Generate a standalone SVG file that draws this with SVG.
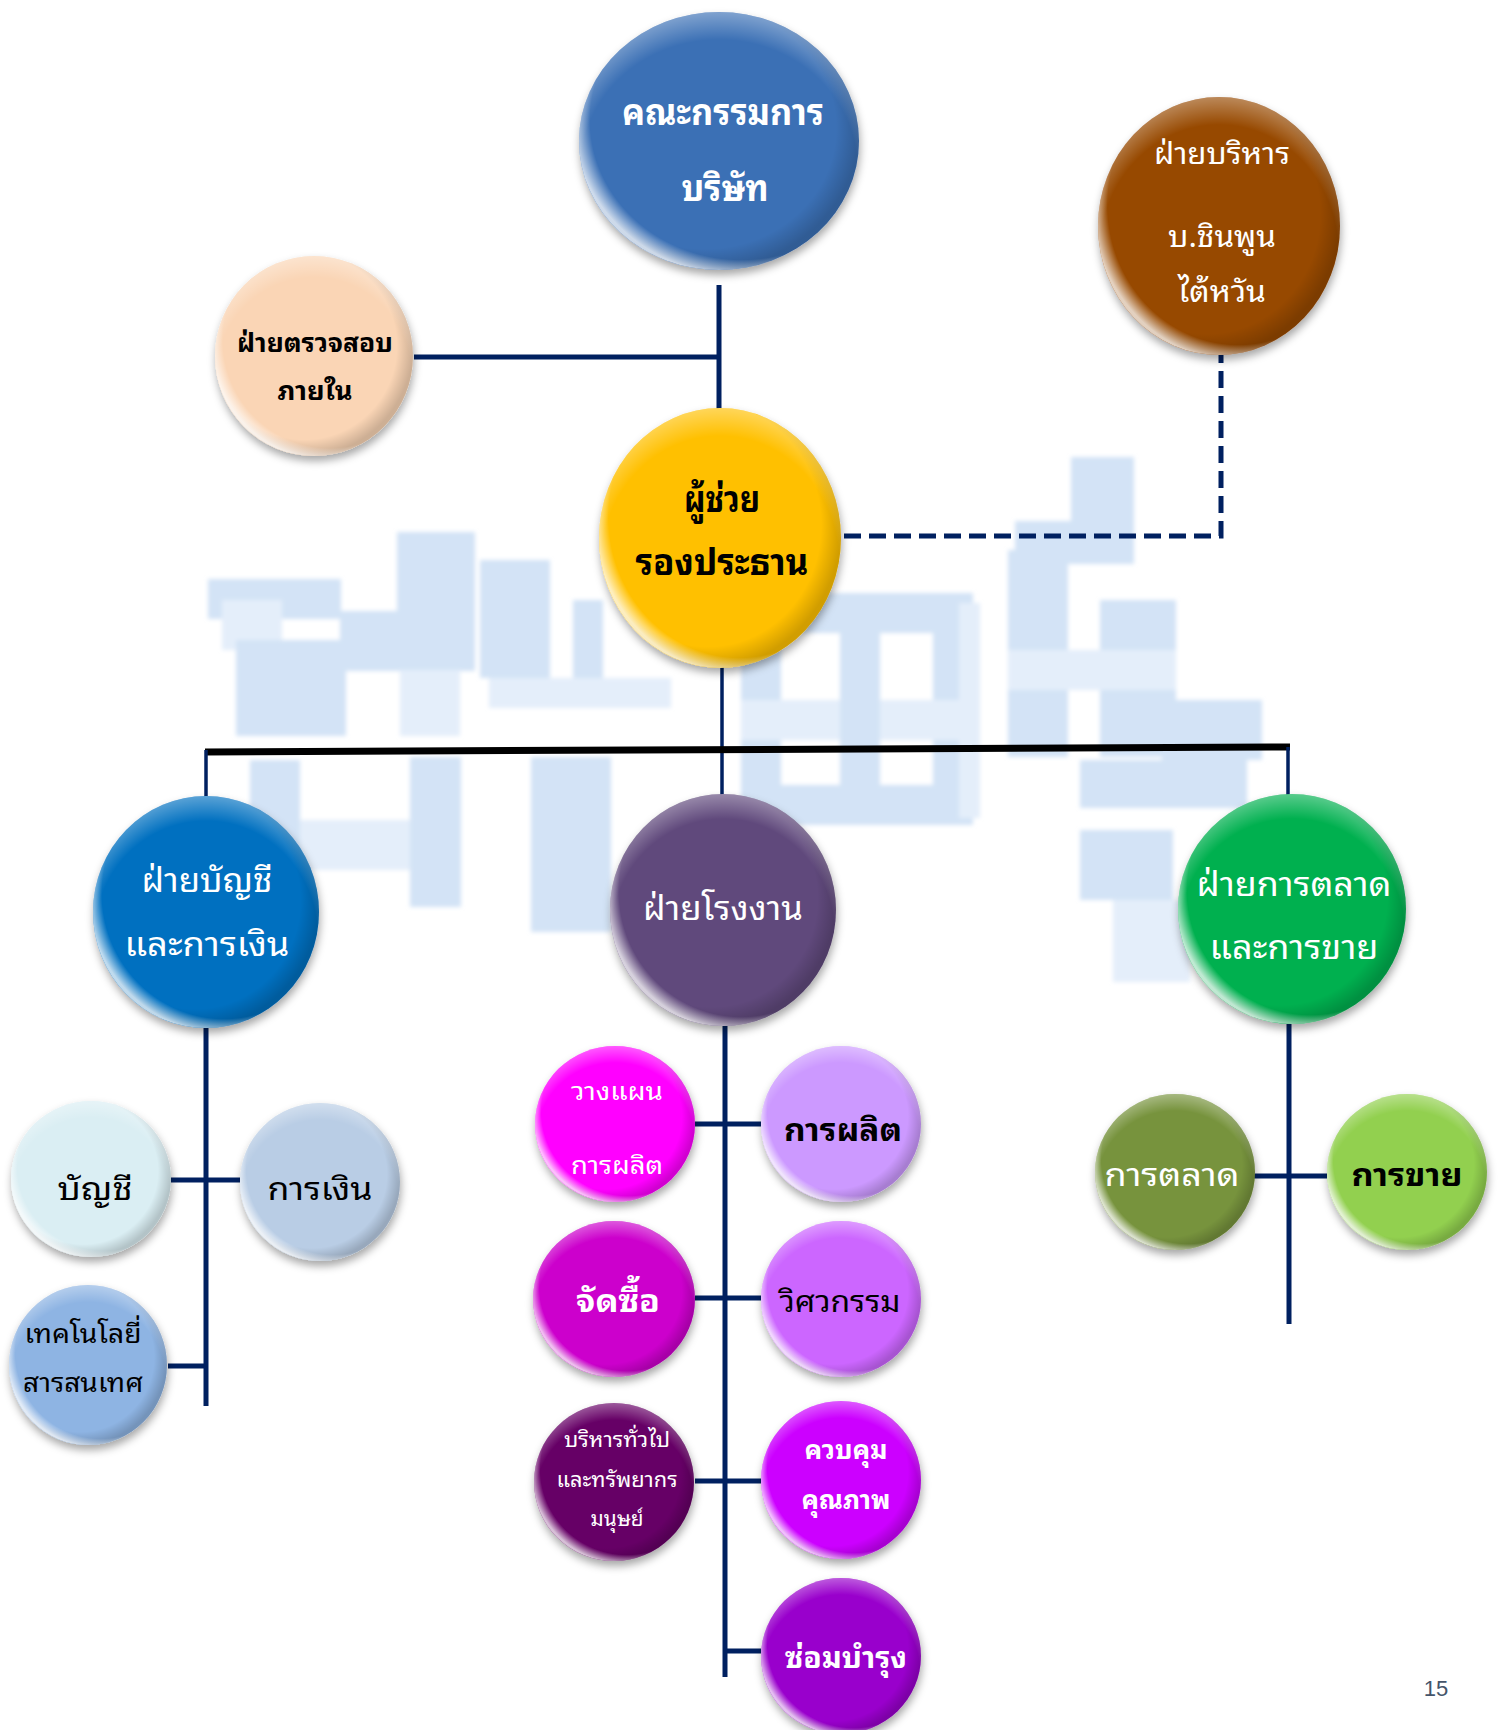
<svg xmlns="http://www.w3.org/2000/svg" width="1499" height="1730" viewBox="0 0 1499 1730">
<defs>
<style>
.t{font-family:"Noto Sans Thai Looped","Loma","Garuda","Tahoma","Noto Sans Thai","Noto Sans","DejaVu Sans",sans-serif;text-anchor:middle}
.w{fill:#ffffff}
.k{fill:#000000}
.b{font-weight:bold}
.ln{stroke:#002060;stroke-width:5;fill:none}
.lt{stroke:#002060;stroke-width:3.5;fill:none}
.wm{fill:#d3e3f6}
.wl{fill:#e4eefa}
</style>
<filter id="sh" x="-20%" y="-20%" width="140%" height="150%">
<feDropShadow dx="1" dy="5" stdDeviation="4" flood-color="#000" flood-opacity="0.35"/>
</filter>
<filter id="soft" x="-5%" y="-5%" width="110%" height="110%">
<feGaussianBlur stdDeviation="2"/>
</filter>
<radialGradient id="gl" cx="0.58" cy="0.42" r="0.6">
<stop offset="0.9" stop-color="#fff" stop-opacity="0"/>
<stop offset="1" stop-color="#fff" stop-opacity="0.75"/>
</radialGradient>
<radialGradient id="gt" cx="0.5" cy="0.6" r="0.6">
<stop offset="0.82" stop-color="#fff" stop-opacity="0"/>
<stop offset="1" stop-color="#fff" stop-opacity="0.35"/>
</radialGradient>
<radialGradient id="gd" cx="0.45" cy="0.45" r="0.55">
<stop offset="0.85" stop-color="#000" stop-opacity="0"/>
<stop offset="1" stop-color="#000" stop-opacity="0.18"/>
</radialGradient>
</defs>
<rect width="1499" height="1730" fill="#ffffff"/>

<g id="watermark" filter="url(#soft)">
<rect class="wm" x="208" y="579" width="133" height="40"/>
<rect class="wl" x="222" y="600" width="60" height="50"/>
<rect class="wm" x="397" y="532" width="78" height="80"/>
<rect class="wm" x="236" y="640" width="110" height="96"/>
<rect class="wm" x="340" y="611" width="135" height="60"/>
<rect class="wl" x="400" y="670" width="60" height="66"/>
<rect class="wm" x="250" y="760" width="50" height="215"/>
<rect class="wl" x="300" y="820" width="161" height="50"/>
<rect class="wm" x="410" y="757" width="51" height="150"/>
<rect class="wm" x="573" y="600" width="30" height="100"/>
<rect class="wl" x="489" y="678" width="182" height="30"/>
<rect class="wm" x="480" y="560" width="70" height="118"/>
<rect class="wm" x="531" y="757" width="80" height="175"/>
<rect class="wm" x="741" y="593" width="232" height="40"/>
<rect class="wm" x="741" y="593" width="40" height="232"/>
<rect class="wm" x="933" y="593" width="40" height="232"/>
<rect class="wl" x="741" y="700" width="232" height="40"/>
<rect class="wm" x="840" y="593" width="40" height="232"/>
<rect class="wm" x="741" y="785" width="232" height="40"/>
<rect class="wm" x="1071" y="457" width="63" height="64"/>
<rect class="wm" x="1015" y="521" width="119" height="43"/>
<rect class="wl" x="959" y="603" width="21" height="215"/>
<rect class="wm" x="1008" y="550" width="60" height="207"/>
<rect class="wm" x="1100" y="600" width="76" height="157"/>
<rect class="wl" x="1008" y="650" width="168" height="40"/>
<rect class="wm" x="1080" y="760" width="167" height="48"/>
<rect class="wm" x="1080" y="830" width="93" height="70"/>
<rect class="wl" x="1113" y="900" width="77" height="82"/>
<rect class="wm" x="1162" y="700" width="100" height="60"/>
</g>

<g id="connectors">
<line class="ln" x1="719" y1="285" x2="719" y2="414"/>
<line class="ln" x1="414" y1="357" x2="719" y2="357"/>
<polyline class="ln" points="844,536 1221,536 1221,355" stroke-dasharray="17,8"/>
<line class="lt" x1="722" y1="667" x2="722" y2="796"/>
<line x1="205" y1="752" x2="1290" y2="747" stroke="#000" stroke-width="7"/>
<line class="lt" x1="206" y1="750" x2="206" y2="798"/>
<line class="lt" x1="1288" y1="747" x2="1288" y2="796"/>
<line class="ln" x1="206" y1="1028" x2="206" y2="1406"/>
<line class="ln" x1="171" y1="1180" x2="240" y2="1180"/>
<line class="ln" x1="168" y1="1366" x2="206" y2="1366"/>
<line class="ln" x1="725" y1="1026" x2="725" y2="1677"/>
<line class="ln" x1="695" y1="1124" x2="761" y2="1124"/>
<line class="ln" x1="695" y1="1298" x2="761" y2="1298"/>
<line class="ln" x1="695" y1="1481" x2="761" y2="1481"/>
<line class="ln" x1="725" y1="1651" x2="761" y2="1651"/>
<line class="ln" x1="1289" y1="1024" x2="1289" y2="1324"/>
<line class="ln" x1="1254" y1="1176" x2="1327" y2="1176"/>
</g>

<g id="n-board">
<ellipse cx="719" cy="141" rx="140" ry="129" fill="#3A6FB5" filter="url(#sh)"/>
<ellipse cx="719" cy="141" rx="140" ry="129" fill="url(#gd)"/>
<ellipse cx="719" cy="141" rx="140" ry="129" fill="url(#gt)"/>
<ellipse cx="719" cy="141" rx="140" ry="129" fill="url(#gl)"/>
<text class="t w b" x="723" y="125" font-size="36" textLength="202" lengthAdjust="spacingAndGlyphs">คณะกรรมการ</text>
<text class="t w b" x="725" y="201" font-size="36" textLength="87" lengthAdjust="spacingAndGlyphs">บริษัท</text>
</g>

<g id="n-audit">
<ellipse cx="314" cy="356" rx="99" ry="100" fill="#FAD5B5" filter="url(#sh)"/>
<ellipse cx="314" cy="356" rx="99" ry="100" fill="url(#gd)"/>
<ellipse cx="314" cy="356" rx="99" ry="100" fill="url(#gt)"/>
<ellipse cx="314" cy="356" rx="99" ry="100" fill="url(#gl)"/>
<text class="t k b" x="315" y="352" font-size="26" textLength="156" lengthAdjust="spacingAndGlyphs">ฝ่ายตรวจสอบ</text>
<text class="t k b" x="315" y="400" font-size="26" textLength="75" lengthAdjust="spacingAndGlyphs">ภายใน</text>
</g>

<g id="n-vp">
<ellipse cx="720" cy="538" rx="121" ry="130" fill="#FFC000" filter="url(#sh)"/>
<ellipse cx="720" cy="538" rx="121" ry="130" fill="url(#gd)"/>
<ellipse cx="720" cy="538" rx="121" ry="130" fill="url(#gt)"/>
<ellipse cx="720" cy="538" rx="121" ry="130" fill="url(#gl)"/>
<text class="t k b" x="722" y="512" font-size="36" textLength="76" lengthAdjust="spacingAndGlyphs">ผู้ช่วย</text>
<text class="t k b" x="722" y="575" font-size="36" textLength="173" lengthAdjust="spacingAndGlyphs">รองประธาน</text>
</g>

<g id="n-mgmt">
<ellipse cx="1219" cy="226" rx="121" ry="129" fill="#974806" filter="url(#sh)"/>
<ellipse cx="1219" cy="226" rx="121" ry="129" fill="url(#gd)"/>
<ellipse cx="1219" cy="226" rx="121" ry="129" fill="url(#gt)"/>
<ellipse cx="1219" cy="226" rx="121" ry="129" fill="url(#gl)"/>
<text class="t w" x="1222" y="164" font-size="30" textLength="136" lengthAdjust="spacingAndGlyphs">ฝ่ายบริหาร</text>
<text class="t w" x="1222" y="247" font-size="30" textLength="108" lengthAdjust="spacingAndGlyphs">บ.ชินพูน</text>
<text class="t w" x="1222" y="302" font-size="30" textLength="88" lengthAdjust="spacingAndGlyphs">ไต้หวัน</text>
</g>

<g id="n-acc">
<ellipse cx="206" cy="912" rx="113" ry="116" fill="#0070C0" filter="url(#sh)"/>
<ellipse cx="206" cy="912" rx="113" ry="116" fill="url(#gd)"/>
<ellipse cx="206" cy="912" rx="113" ry="116" fill="url(#gt)"/>
<ellipse cx="206" cy="912" rx="113" ry="116" fill="url(#gl)"/>
<text class="t w" x="207" y="892" font-size="34" textLength="131" lengthAdjust="spacingAndGlyphs">ฝ่ายบัญชี</text>
<text class="t w" x="207" y="956" font-size="34" textLength="165" lengthAdjust="spacingAndGlyphs">และการเงิน</text>
</g>

<g id="n-factory">
<ellipse cx="723" cy="910" rx="113" ry="116" fill="#604A7B" filter="url(#sh)"/>
<ellipse cx="723" cy="910" rx="113" ry="116" fill="url(#gd)"/>
<ellipse cx="723" cy="910" rx="113" ry="116" fill="url(#gt)"/>
<ellipse cx="723" cy="910" rx="113" ry="116" fill="url(#gl)"/>
<text class="t w" x="723" y="920" font-size="34" textLength="160" lengthAdjust="spacingAndGlyphs">ฝ่ายโรงงาน</text>
</g>

<g id="n-mkt">
<ellipse cx="1292" cy="909" rx="114" ry="115" fill="#00B050" filter="url(#sh)"/>
<ellipse cx="1292" cy="909" rx="114" ry="115" fill="url(#gd)"/>
<ellipse cx="1292" cy="909" rx="114" ry="115" fill="url(#gt)"/>
<ellipse cx="1292" cy="909" rx="114" ry="115" fill="url(#gl)"/>
<text class="t w" x="1294" y="896" font-size="34" textLength="195" lengthAdjust="spacingAndGlyphs">ฝ่ายการตลาด</text>
<text class="t w" x="1294" y="959" font-size="34" textLength="169" lengthAdjust="spacingAndGlyphs">และการขาย</text>
</g>

<g id="n-account">
<ellipse cx="91" cy="1179" rx="80" ry="78" fill="#DAEEF3" filter="url(#sh)"/>
<ellipse cx="91" cy="1179" rx="80" ry="78" fill="url(#gd)"/>
<ellipse cx="91" cy="1179" rx="80" ry="78" fill="url(#gt)"/>
<ellipse cx="91" cy="1179" rx="80" ry="78" fill="url(#gl)"/>
<text class="t k" x="95" y="1200" font-size="32" textLength="75" lengthAdjust="spacingAndGlyphs">บัญชี</text>
</g>

<g id="n-finance">
<ellipse cx="320" cy="1182" rx="80" ry="79" fill="#B9CDE5" filter="url(#sh)"/>
<ellipse cx="320" cy="1182" rx="80" ry="79" fill="url(#gd)"/>
<ellipse cx="320" cy="1182" rx="80" ry="79" fill="url(#gt)"/>
<ellipse cx="320" cy="1182" rx="80" ry="79" fill="url(#gl)"/>
<text class="t k" x="320" y="1200" font-size="32" textLength="105" lengthAdjust="spacingAndGlyphs">การเงิน</text>
</g>

<g id="n-it">
<ellipse cx="88" cy="1365" rx="79" ry="80" fill="#8EB4E3" filter="url(#sh)"/>
<ellipse cx="88" cy="1365" rx="79" ry="80" fill="url(#gd)"/>
<ellipse cx="88" cy="1365" rx="79" ry="80" fill="url(#gt)"/>
<ellipse cx="88" cy="1365" rx="79" ry="80" fill="url(#gl)"/>
<text class="t k" x="83" y="1343" font-size="26" textLength="117" lengthAdjust="spacingAndGlyphs">เทคโนโลยี่</text>
<text class="t k" x="83" y="1392" font-size="26" textLength="120" lengthAdjust="spacingAndGlyphs">สารสนเทศ</text>
</g>

<g id="n-plan">
<ellipse cx="615" cy="1124" rx="80" ry="78" fill="#FF00FF" filter="url(#sh)"/>
<ellipse cx="615" cy="1124" rx="80" ry="78" fill="url(#gd)"/>
<ellipse cx="615" cy="1124" rx="80" ry="78" fill="url(#gt)"/>
<ellipse cx="615" cy="1124" rx="80" ry="78" fill="url(#gl)"/>
<text class="t w" x="617" y="1100" font-size="24" textLength="92" lengthAdjust="spacingAndGlyphs">วางแผน</text>
<text class="t w" x="617" y="1174" font-size="24" textLength="92" lengthAdjust="spacingAndGlyphs">การผลิต</text>
</g>

<g id="n-prod">
<ellipse cx="841" cy="1124" rx="80" ry="78" fill="#CC99FF" filter="url(#sh)"/>
<ellipse cx="841" cy="1124" rx="80" ry="78" fill="url(#gd)"/>
<ellipse cx="841" cy="1124" rx="80" ry="78" fill="url(#gt)"/>
<ellipse cx="841" cy="1124" rx="80" ry="78" fill="url(#gl)"/>
<text class="t k b" x="843" y="1141" font-size="32" textLength="118" lengthAdjust="spacingAndGlyphs">การผลิต</text>
</g>

<g id="n-purchase">
<ellipse cx="614" cy="1299" rx="81" ry="78" fill="#CC00CC" filter="url(#sh)"/>
<ellipse cx="614" cy="1299" rx="81" ry="78" fill="url(#gd)"/>
<ellipse cx="614" cy="1299" rx="81" ry="78" fill="url(#gt)"/>
<ellipse cx="614" cy="1299" rx="81" ry="78" fill="url(#gl)"/>
<text class="t w b" x="618" y="1312" font-size="32" textLength="84" lengthAdjust="spacingAndGlyphs">จัดซื้อ</text>
</g>

<g id="n-eng">
<ellipse cx="841" cy="1299" rx="80" ry="78" fill="#CC66FF" filter="url(#sh)"/>
<ellipse cx="841" cy="1299" rx="80" ry="78" fill="url(#gd)"/>
<ellipse cx="841" cy="1299" rx="80" ry="78" fill="url(#gt)"/>
<ellipse cx="841" cy="1299" rx="80" ry="78" fill="url(#gl)"/>
<text class="t k" x="840" y="1312" font-size="30" textLength="121" lengthAdjust="spacingAndGlyphs">วิศวกรรม</text>
</g>

<g id="n-hr">
<ellipse cx="614" cy="1482" rx="80" ry="79" fill="#660066" filter="url(#sh)"/>
<ellipse cx="614" cy="1482" rx="80" ry="79" fill="url(#gd)"/>
<ellipse cx="614" cy="1482" rx="80" ry="79" fill="url(#gt)"/>
<ellipse cx="614" cy="1482" rx="80" ry="79" fill="url(#gl)"/>
<text class="t w" x="617" y="1447" font-size="21" textLength="106" lengthAdjust="spacingAndGlyphs">บริหารทั่วไป</text>
<text class="t w" x="617" y="1487" font-size="21" textLength="121" lengthAdjust="spacingAndGlyphs">และทรัพยากร</text>
<text class="t w" x="617" y="1526" font-size="21" textLength="53" lengthAdjust="spacingAndGlyphs">มนุษย์</text>
</g>

<g id="n-qc">
<ellipse cx="841" cy="1480" rx="80" ry="79" fill="#CC00FF" filter="url(#sh)"/>
<ellipse cx="841" cy="1480" rx="80" ry="79" fill="url(#gd)"/>
<ellipse cx="841" cy="1480" rx="80" ry="79" fill="url(#gt)"/>
<ellipse cx="841" cy="1480" rx="80" ry="79" fill="url(#gl)"/>
<text class="t w b" x="846" y="1459" font-size="26" textLength="83" lengthAdjust="spacingAndGlyphs">ควบคุม</text>
<text class="t w b" x="846" y="1509" font-size="26" textLength="89" lengthAdjust="spacingAndGlyphs">คุณภาพ</text>
</g>

<g id="n-maint">
<ellipse cx="841" cy="1656" rx="80" ry="78" fill="#9900CC" filter="url(#sh)"/>
<ellipse cx="841" cy="1656" rx="80" ry="78" fill="url(#gd)"/>
<ellipse cx="841" cy="1656" rx="80" ry="78" fill="url(#gt)"/>
<ellipse cx="841" cy="1656" rx="80" ry="78" fill="url(#gl)"/>
<text class="t w b" x="846" y="1668" font-size="30" textLength="122" lengthAdjust="spacingAndGlyphs">ซ่อมบำรุง</text>
</g>

<g id="n-marketing">
<ellipse cx="1175" cy="1172" rx="80" ry="78" fill="#77933C" filter="url(#sh)"/>
<ellipse cx="1175" cy="1172" rx="80" ry="78" fill="url(#gd)"/>
<ellipse cx="1175" cy="1172" rx="80" ry="78" fill="url(#gt)"/>
<ellipse cx="1175" cy="1172" rx="80" ry="78" fill="url(#gl)"/>
<text class="t w" x="1172" y="1186" font-size="32" textLength="135" lengthAdjust="spacingAndGlyphs">การตลาด</text>
</g>

<g id="n-sales">
<ellipse cx="1407" cy="1172" rx="80" ry="78" fill="#92D050" filter="url(#sh)"/>
<ellipse cx="1407" cy="1172" rx="80" ry="78" fill="url(#gd)"/>
<ellipse cx="1407" cy="1172" rx="80" ry="78" fill="url(#gt)"/>
<ellipse cx="1407" cy="1172" rx="80" ry="78" fill="url(#gl)"/>
<text class="t k b" x="1407" y="1186" font-size="32" textLength="111" lengthAdjust="spacingAndGlyphs">การขาย</text>
</g>

<text x="1436" y="1696" font-family="Liberation Sans, Arial, sans-serif" font-size="22" fill="#44546A" text-anchor="middle">15</text>
</svg>
